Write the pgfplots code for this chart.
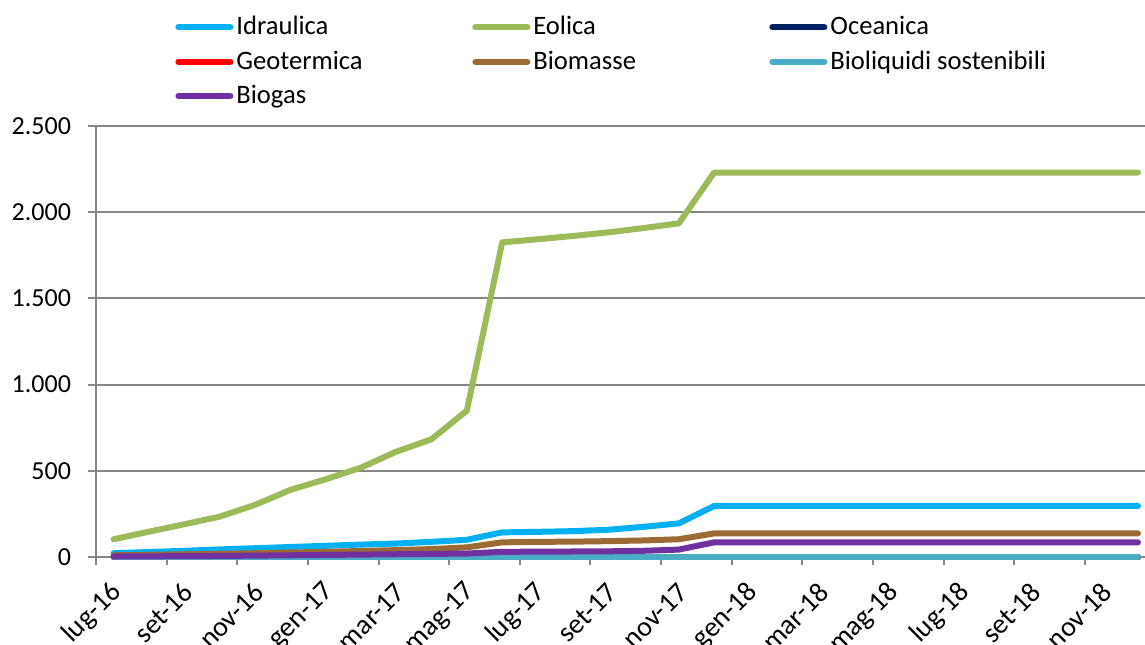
\documentclass[border=0pt]{standalone}
\usepackage{pgfplots}
\usepackage{pgfplotstable}
\pgfplotsset{compat=1.18}
\usepackage{fontspec}
\setmainfont{Carlito}
\definecolor{cIdr}{HTML}{00B0F0}
\definecolor{cEol}{HTML}{9BBB59}
\definecolor{cOce}{HTML}{002060}
\definecolor{cGeo}{HTML}{FF0000}
\definecolor{cBim}{HTML}{9B6A35}
\definecolor{cBil}{HTML}{4BACC6}
\definecolor{cBgs}{HTML}{7030A0}
\definecolor{cGrid}{HTML}{878787}
\pgfplotstableread{
idx idr eol oce geo bim bil bgs
0 22 103 0 0 10 1 3
1 29 147 0 0 13 1 4
2 36 190 0 0 16 1 5
3 44 234 0 0 19 1 6
4 51 302 0 0 22 1 8
5 58 389 0 0 26 1 10
6 65 451 0 0 30 1 12
7 72 518 0 0 35 1 14
8 78 611 0 0 40 1 16
9 88 683 0 0 46 1 18
10 100 849 0 0 56 1 20
11 143 1825 0 0 85 1 30
12 146 1843 0 0 88 1 31
13 150 1862 0 0 89 1 32
14 158 1883 0 0 92 1 33
15 175 1908 0 0 96 1 36
16 195 1935 0 0 103 1 43
17 296 2230 0 0 137 1 85
18 296 2230 0 0 137 1 85
19 296 2230 0 0 137 1 85
20 296 2230 0 0 137 1 85
21 296 2230 0 0 137 1 85
22 296 2230 0 0 137 1 85
23 296 2230 0 0 137 1 85
24 296 2230 0 0 137 1 85
25 296 2230 0 0 137 1 85
26 296 2230 0 0 137 1 85
27 296 2230 0 0 137 1 85
28 296 2230 0 0 137 1 85
29 296 2230 0 0 137 1 85
}\data
\newcommand{\legtxt}[2]{\makebox[#1][l]{\hspace{1.5pt}#2}}
\begin{document}
\begin{tikzpicture}
\begin{axis}[
  at={(48pt,43.5pt)}, anchor=south west,
  scale only axis, width=524.5pt, height=215.5pt,
  xmin=-0.5, xmax=29.2, ymin=0, ymax=2500,
  clip=false,
  axis lines=left, axis line style={-, draw=cGrid, line width=1pt},
  ytick={0,500,...,2500},
  ymajorgrids, major grid style={draw=cGrid, line width=1pt},
  xtick={0,2,...,28},
  xticklabels={lug-16,set-16,nov-16,gen-17,mar-17,mag-17,lug-17,set-17,nov-17,gen-18,mar-18,mag-18,lug-18,set-18,nov-18},
  minor xtick={-0.5,1.5,...,27.5},
  major x tick style={draw=none},
  tick align=outside, major tick length=4pt, minor tick length=4pt,
  tick style={draw=cGrid, line width=1pt},
  yticklabel style={font=\fontsize{13}{15}\selectfont, xshift=-5pt},
  xticklabel style={font=\fontsize{14}{16}\selectfont, xshift=4.5pt, yshift=-9pt, rotate=45, anchor=east},
  /pgf/number format/assume math mode=true,
  /pgf/number format/1000 sep={.},
  every axis plot/.append style={line width=3pt, line join=round, line cap=round},
  legend columns=3,
  legend cell align=left,
  legend image code/.code={\draw[#1, line width=3pt, line cap=round] (0pt,0pt) -- (26pt,0pt);},
  legend style={at={(0.0753,1.255)}, anchor=north west, draw=none, fill=none,
    inner sep=0pt, row sep=6.5pt, font=\fontsize{13.3}{15}\selectfont,
    nodes={inner sep=0pt}},
]
\addplot[cIdr] table[x=idx,y=idr]{\data};
\addlegendentry{\legtxt{119.5pt}{Idraulica}}
\addplot[cEol] table[x=idx,y=eol]{\data};
\addlegendentry{\legtxt{119.5pt}{Eolica}}
\addplot[cOce] table[x=idx,y=oce]{\data};
\addlegendentry{\legtxt{119.5pt}{Oceanica}}
\addplot[cGeo] table[x=idx,y=geo]{\data};
\addlegendentry{\legtxt{119.5pt}{Geotermica}}
\addplot[cBim] table[x=idx,y=bim]{\data};
\addlegendentry{\legtxt{119.5pt}{Biomasse}}
\addplot[cBil] table[x=idx,y=bil]{\data};
\addlegendentry{\legtxt{119.5pt}{Bioliquidi sostenibili}}
\addplot[cBgs] table[x=idx,y=bgs]{\data};
\addlegendentry{\legtxt{119.5pt}{Biogas}}
\end{axis}
\pgfresetboundingbox
\useasboundingbox (0,0) rectangle (572.5pt,322pt);
\end{tikzpicture}
\end{document}
